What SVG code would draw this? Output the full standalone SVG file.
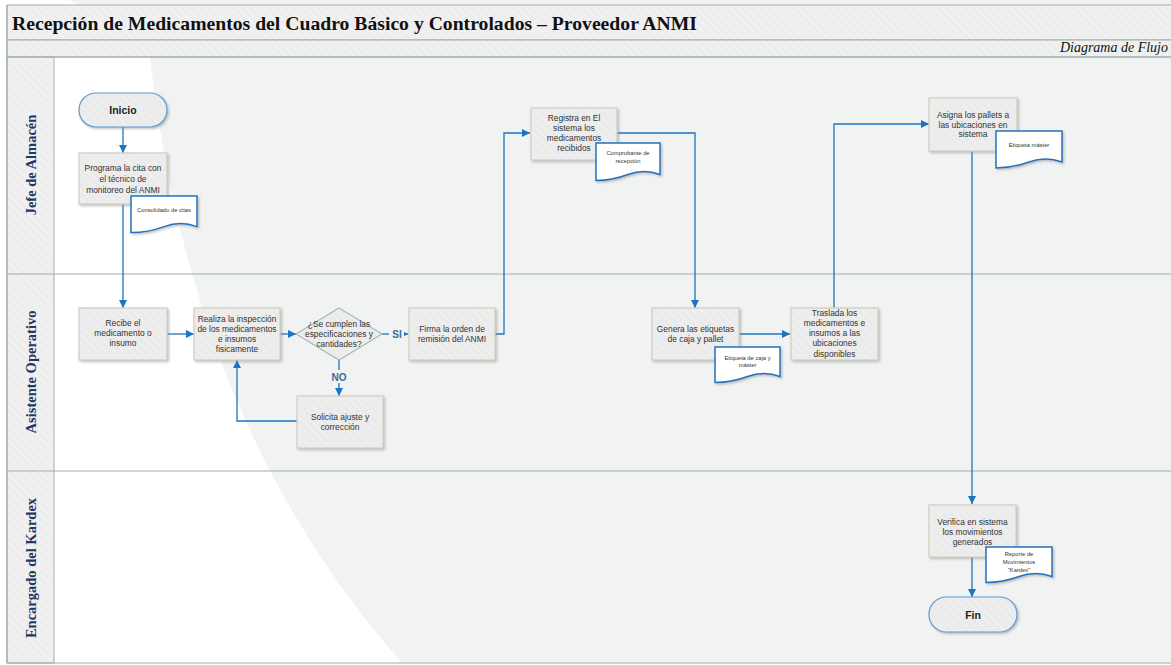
<svg xmlns="http://www.w3.org/2000/svg" width="1171" height="665" viewBox="0 0 1171 665">
  <defs>
    <pattern id="hatch" width="6" height="6" patternUnits="userSpaceOnUse" patternTransform="rotate(-45)">
      <rect width="6" height="6" fill="#ebebeb"/>
      <line x1="0" y1="0" x2="0" y2="6" stroke="#f2f2f2" stroke-width="2"/>
    </pattern>
    <pattern id="hatchBand" width="6" height="6" patternUnits="userSpaceOnUse" patternTransform="rotate(-45)">
      <rect width="6" height="6" fill="#eeeeee"/>
      <line x1="0" y1="0" x2="0" y2="6" stroke="#f5f5f5" stroke-width="2"/>
    </pattern>
    <filter id="shadow" x="-10%" y="-10%" width="130%" height="130%">
      <feDropShadow dx="1.5" dy="1.5" stdDeviation="1" flood-color="#8f8f8f" flood-opacity="0.55"/>
    </filter>
    <marker id="arrow" markerWidth="8" markerHeight="8" refX="8" refY="4" orient="auto" markerUnits="userSpaceOnUse">
      <path d="M0,0 L8,4 L0,8 Z" fill="#1b74c2"/>
    </marker>
    <style>
      .band { fill: url(#hatchBand); stroke: #9fb0ac; stroke-width: 1; }
      .lane-line { stroke: #9fb0ac; stroke-width: 1.2; fill: none; }
      .lane-label { font-family: "Liberation Serif", "Times New Roman", serif; font-weight: bold; font-size: 14.5px; fill: #1f3864; text-anchor: middle; }
      .box { fill: url(#hatch); stroke: #d3cdbd; stroke-width: 1.2; filter: url(#shadow); }
      .term { fill: url(#hatch); stroke: #5b9bd5; stroke-width: 1.2; filter: url(#shadow); }
      .diamond { fill: url(#hatch); stroke: #a7bbb7; stroke-width: 1.2; }
      .doc { fill: #ffffff; stroke: #1e73be; stroke-width: 1.5; filter: url(#shadow); }
      .t { font-family: "Liberation Sans", Arial, sans-serif; font-size: 8.4px; fill: #333333; text-anchor: middle; }
      .tb { font-family: "Liberation Sans", Arial, sans-serif; font-size: 10.5px; font-weight: bold; fill: #222222; text-anchor: middle; }
      .td { font-family: "Liberation Sans", Arial, sans-serif; font-size: 5.8px; fill: #333333; text-anchor: middle; }
      .lbl { font-family: "Liberation Sans", Arial, sans-serif; font-size: 10px; font-weight: bold; fill: #3d6a98; text-anchor: middle; }
      .conn { stroke: #1b74c2; stroke-width: 1.3; fill: none; }
    </style>
  </defs>

  <!-- page background with the soft grey sweep -->
  <rect x="0" y="0" width="1171" height="665" fill="#ffffff"/>
  <path d="M70,0 L150,57 C172,250 232,470 402,663 L1171,663 L1171,0 Z" fill="#f1f3f2"/>

  <!-- title bands -->
  <rect class="band" x="7" y="5" width="1170" height="35"/>
  <rect class="band" x="7" y="40" width="1170" height="17"/>
  <text x="12" y="30" font-family="Liberation Serif, 'Times New Roman', serif" font-weight="bold" font-size="19.5px" fill="#111111" textLength="685" lengthAdjust="spacingAndGlyphs">Recepción de Medicamentos del Cuadro Básico y Controlados – Proveedor ANMI</text>
  <text x="1168" y="52" font-family="Liberation Serif, 'Times New Roman', serif" font-style="italic" font-size="14px" fill="#111111" text-anchor="end">Diagrama de Flujo</text>

  <!-- swimlanes -->
  <g id="lanes">
    <rect x="7" y="57" width="47" height="606" fill="url(#hatchBand)" stroke="#9fb0ac" stroke-width="1"/>
    <line class="lane-line" x1="7" y1="57" x2="1171" y2="57"/>
    <line class="lane-line" x1="7" y1="274" x2="1171" y2="274"/>
    <line class="lane-line" x1="7" y1="471" x2="1171" y2="471"/>
    <line class="lane-line" x1="7" y1="663" x2="1171" y2="663"/>
    <line class="lane-line" x1="7" y1="5" x2="7" y2="663"/>
    <text class="lane-label" transform="translate(36,165) rotate(-90)">Jefe de Almacén</text>
    <text class="lane-label" transform="translate(36,372) rotate(-90)">Asistente Operativo</text>
    <text class="lane-label" transform="translate(36,568) rotate(-90)">Encargado del Kardex</text>
  </g>

  <!-- connectors -->
  <g id="connectors">
    <line class="conn" x1="123" y1="127" x2="123" y2="153" marker-end="url(#arrow)"/>
    <line class="conn" x1="123" y1="204" x2="123" y2="308" marker-end="url(#arrow)"/>
    <line class="conn" x1="166" y1="334" x2="194" y2="334" marker-end="url(#arrow)"/>
    <line class="conn" x1="280" y1="334" x2="296" y2="334" marker-end="url(#arrow)"/>
    <line class="conn" x1="382" y1="334" x2="408" y2="334" marker-end="url(#arrow)"/>
    <line class="conn" x1="339" y1="360" x2="339" y2="396" marker-end="url(#arrow)"/>
    <polyline class="conn" points="297,421 237,421 237,360" marker-end="url(#arrow)"/>
    <polyline class="conn" points="495,334 504,334 504,133 530,133" marker-end="url(#arrow)"/>
    <polyline class="conn" points="617,133 695,133 695,308" marker-end="url(#arrow)"/>
    <line class="conn" x1="739" y1="334" x2="790" y2="334" marker-end="url(#arrow)"/>
    <polyline class="conn" points="834,308 834,124 929,124" marker-end="url(#arrow)"/>
    <line class="conn" x1="972" y1="151" x2="972" y2="504" marker-end="url(#arrow)"/>
    <line class="conn" x1="972" y1="557" x2="972" y2="597" marker-end="url(#arrow)"/>
    <!-- branch labels -->
    <rect x="389" y="327" width="15" height="13" fill="#f1f3f2"/>
    <text class="lbl" x="397" y="338">SI</text>
    <rect x="330" y="370" width="18" height="13" fill="#f1f3f2"/>
    <text class="lbl" x="339" y="381">NO</text>
  </g>

  <!-- nodes -->
  <g id="inicio">
    <rect class="term" x="79" y="93" width="88" height="34" rx="17" ry="17"/>
    <text class="tb" x="123" y="114">Inicio</text>
  </g>

  <g id="programa-cita">
    <rect class="box" x="79" y="153" width="88" height="51"/>
    <text class="t" x="123" y="171">Programa la cita con</text>
    <text class="t" x="123" y="182">el técnico de</text>
    <text class="t" x="123" y="192.5">monitoreo del ANMI</text>
  </g>
  <g id="doc-consolidado">
    <path class="doc" d="M131,196 H197 V226.6 Q180.5,220.5 164,226.6 T131,232.6 Z"/>
    <text class="td" x="164" y="212">Consolidado de citas</text>
  </g>

  <g id="recibe">
    <rect class="box" x="79" y="308" width="88" height="52"/>
    <text class="t" x="123" y="326">Recibe el</text>
    <text class="t" x="123" y="336">medicamento o</text>
    <text class="t" x="123" y="346">insumo</text>
  </g>

  <g id="realiza-inspeccion">
    <rect class="box" x="194" y="308" width="86" height="52"/>
    <text class="t" x="237" y="322">Realiza la inspección</text>
    <text class="t" x="237" y="331.5">de los medicamentos</text>
    <text class="t" x="237" y="342">e insumos</text>
    <text class="t" x="237" y="352">fisicamente</text>
  </g>

  <g id="decision">
    <polygon class="diamond" points="339,308 382,334 339,360 296,334"/>
    <text class="t" x="339" y="327">¿Se cumplen las</text>
    <text class="t" x="339" y="337">especificaciones y</text>
    <text class="t" x="339" y="347">cantidades?</text>
  </g>

  <g id="solicita-ajuste">
    <rect class="box" x="297" y="396" width="86" height="52"/>
    <text class="t" x="340" y="420">Solicita ajuste y</text>
    <text class="t" x="340" y="430">corrección</text>
  </g>

  <g id="firma-orden">
    <rect class="box" x="409" y="308" width="86" height="52"/>
    <text class="t" x="452" y="332">Firma la orden de</text>
    <text class="t" x="452" y="342">remisión del ANMI</text>
  </g>

  <g id="registra">
    <rect class="box" x="531" y="108" width="86" height="52"/>
    <text class="t" x="574" y="121">Registra en El</text>
    <text class="t" x="574" y="131">sistema los</text>
    <text class="t" x="574" y="141">medicamentos</text>
    <text class="t" x="574" y="151">recibidos</text>
  </g>
  <g id="doc-comprobante">
    <path class="doc" d="M596,143 H660 V174.5 Q644,168.5 628,174.5 T596,180.5 Z"/>
    <text class="td" x="628" y="155">Comprobante de</text>
    <text class="td" x="628" y="163">recepción</text>
  </g>

  <g id="genera-etiquetas">
    <rect class="box" x="652" y="308" width="87" height="52"/>
    <text class="t" x="695.5" y="332">Genera las etiquetas</text>
    <text class="t" x="695.5" y="342">de caja y pallet</text>
  </g>
  <g id="doc-etiqueta-caja">
    <path class="doc" d="M715,347 H780 V376.5 Q763.8,370.5 747.5,376.5 T715,382.5 Z"/>
    <text class="td" x="747.5" y="360">Etiqueta de caja y</text>
    <text class="td" x="747.5" y="367">máster</text>
  </g>

  <g id="traslada">
    <rect class="box" x="791" y="308" width="87" height="52"/>
    <text class="t" x="834.5" y="316">Traslada los</text>
    <text class="t" x="834.5" y="326">medicamentos e</text>
    <text class="t" x="834.5" y="336">insumos a las</text>
    <text class="t" x="834.5" y="346">ubicaciones</text>
    <text class="t" x="834.5" y="357">disponibles</text>
  </g>

  <g id="asigna-pallets">
    <rect class="box" x="929" y="98" width="88" height="53"/>
    <text class="t" x="973" y="118">Asigna los pallets a</text>
    <text class="t" x="973" y="127.5">las ubicaciones en</text>
    <text class="t" x="973" y="137">sistema</text>
  </g>
  <g id="doc-etiqueta-master">
    <path class="doc" d="M996,131 H1062 V162 Q1045.5,156 1029,162 T996,168 Z"/>
    <text class="td" x="1029" y="147">Etiqueta máster</text>
  </g>

  <g id="verifica">
    <rect class="box" x="929" y="505" width="87" height="52"/>
    <text class="t" x="972.5" y="525">Verifica en sistema</text>
    <text class="t" x="972.5" y="535">los movimientos</text>
    <text class="t" x="972.5" y="545">generados</text>
  </g>
  <g id="doc-reporte">
    <path class="doc" d="M986,547 H1052 V576.5 Q1035.5,570.5 1019,576.5 T986,582.5 Z"/>
    <text class="td" x="1019" y="556">Reporte de</text>
    <text class="td" x="1019" y="564">Movimientos</text>
    <text class="td" x="1019" y="572">"Kardex"</text>
  </g>

  <g id="fin">
    <rect class="term" x="929" y="597" width="88" height="35" rx="17.5" ry="17.5"/>
    <text class="tb" x="973" y="618.5">Fin</text>
  </g>
</svg>
